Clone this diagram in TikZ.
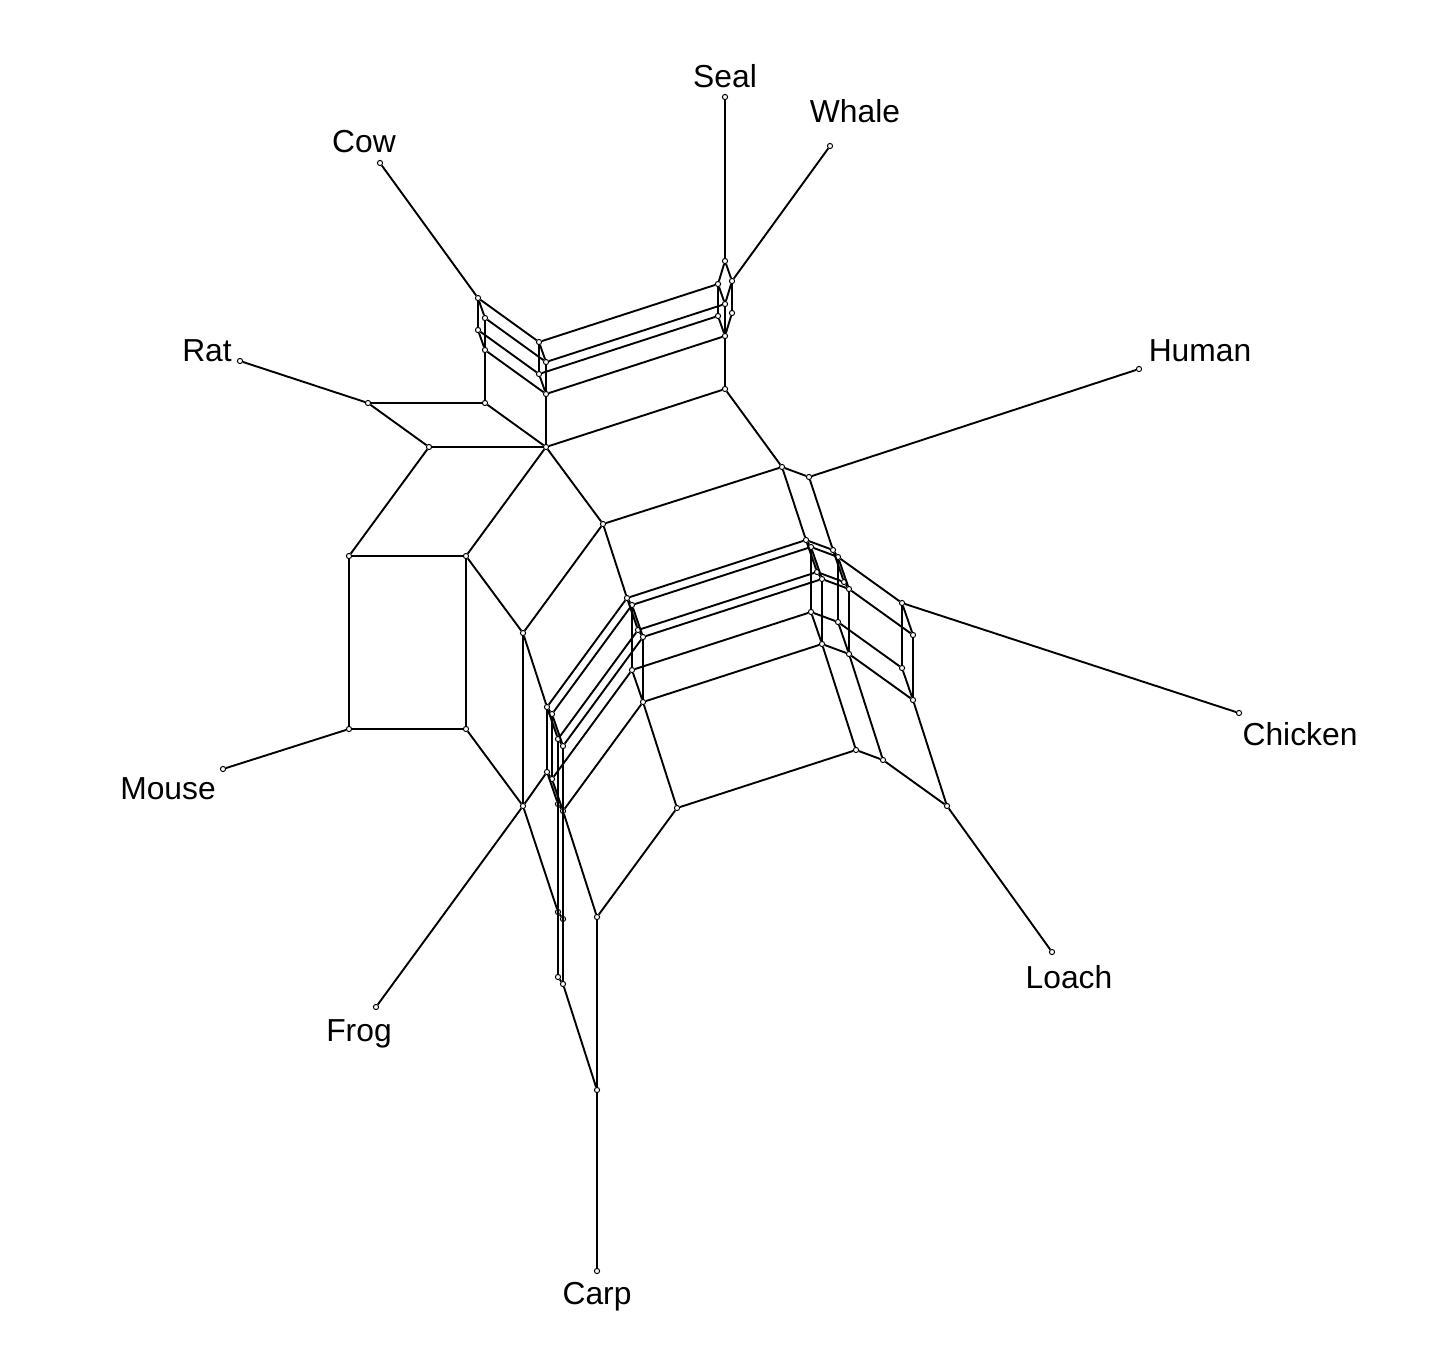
\documentclass[tikz,border=0pt]{standalone}
\usepackage{fontspec}
\setmainfont{Liberation Sans}
\begin{document}
\begin{tikzpicture}[x=0.5pt,y=-0.5pt,line width=0.95pt,
  dot/.style={circle,draw,fill=white,inner sep=0pt,minimum size=2.6pt,line width=0.5pt},
  taxon/.style={font=\fontsize{15.9}{19}\selectfont,inner sep=0pt}]
\useasboundingbox (0,0) rectangle (1446,1366);
% hub and upper part
\node[dot] (hub) at (546,447) {};\node[dot] (t1) at (546,394) {};\node[dot] (t2) at (485,403) {};
\node[dot] (t3) at (429,447) {};\node[dot] (rt) at (368,403) {};\node[dot] (t5) at (485,350) {};
\node[dot] (cg) at (478,330) {};\node[dot] (ch) at (485,318) {};\node[dot] (co) at (478,298) {};
\node[dot] (t1g) at (539,374) {};\node[dot] (t1h) at (546,362) {};\node[dot] (t1gh) at (539,342) {};
\node[dot] (w0) at (725,336) {};\node[dot] (w0g) at (718,316) {};\node[dot] (w0h) at (725,304) {};
\node[dot] (w0gh) at (718,284) {};\node[dot] (w0i) at (732,313) {};\node[dot] (wh) at (732,281) {};
\node[dot] (se) at (725,261) {};\node[dot] (u1) at (725,389) {};
% left part
\node[dot] (m1) at (349,556) {};\node[dot] (m2) at (466,556) {};\node[dot] (mo) at (349,729) {};
\node[dot] (m4) at (466,729) {};\node[dot] (f1) at (523,633) {};\node[dot] (fr) at (523,806) {};
% middle
\node[dot] (e1) at (603,524) {};\node[dot] (e2) at (782,467) {};\node[dot] (hu) at (809,477) {};
\node[dot] (q1) at (627,598) {};\node[dot] (q2) at (632,605) {};\node[dot] (q3) at (638,630) {};
\node[dot] (q4) at (643,637) {};\node[dot] (q5) at (632,670) {};\node[dot] (q6) at (643,702) {};
\node[dot] (r1) at (806,540) {};\node[dot] (r2) at (811,547) {};\node[dot] (r3) at (817,572) {};
\node[dot] (r4) at (822,579) {};\node[dot] (r5) at (811,612) {};\node[dot] (r6) at (822,644) {};
\node[dot] (k1) at (833,550) {};\node[dot] (k2) at (838,557) {};\node[dot] (k3) at (844,582) {};
\node[dot] (k4) at (849,589) {};\node[dot] (k5) at (838,622) {};\node[dot] (k6) at (849,654) {};
\node[dot] (ck) at (902,603) {};\node[dot] (c4) at (913,635) {};\node[dot] (c5) at (902,668) {};
\node[dot] (c6) at (913,700) {};
\node[dot] (lr1) at (677,808) {};\node[dot] (lr2) at (856,750) {};\node[dot] (lr3) at (883,760) {};
\node[dot] (lo) at (947,806) {};
% lower part
\node[dot] (z) at (547,707) {};\node[dot] (zn) at (552,714) {};\node[dot] (zm) at (558,739) {};
\node[dot] (zmn) at (563,746) {};\node[dot] (zo) at (547,772) {};\node[dot] (zno) at (552,779) {};
\node[dot] (zmo) at (558,804) {};\node[dot] (zmno) at (563,811) {};
\node[dot] (y) at (558,912) {};\node[dot] (yn) at (563,919) {};\node[dot] (yo) at (558,977) {};
\node[dot] (yno) at (563,984) {};\node[dot] (b1) at (597,917) {};\node[dot] (ca) at (597,1090) {};
% leaves
\node[dot] (lcow) at (380,163) {};\node[dot] (lseal) at (725,97) {};\node[dot] (lwhale) at (830,146) {};
\node[dot] (lhuman) at (1139,369) {};\node[dot] (lchicken) at (1239,713) {};\node[dot] (lloach) at (1052,952) {};
\node[dot] (lcarp) at (597,1271) {};\node[dot] (lfrog) at (376,1007) {};\node[dot] (lmouse) at (223,769) {};
\node[dot] (lrat) at (240,361) {};
\node[taxon] (Seal) at (725,76) {Seal};\node[taxon] (Whale) at (855,111) {Whale};
\node[taxon] (Cow) at (364,142) {Cow};\node[taxon] (Rat) at (207,351) {Rat};
\node[taxon] (Human) at (1200,351) {Human};\node[taxon] (Chicken) at (1300,734) {Chicken};
\node[taxon] (Loach) at (1069,977) {Loach};\node[taxon] (Carp) at (597,1297) {Carp};
\node[taxon] (Frog) at (359,1034) {Frog};\node[taxon] (Mouse) at (168,789) {Mouse};
% pendant edges
\draw (co)--(lcow) (se)--(lseal) (wh)--(lwhale) (hu)--(lhuman) (ck)--(lchicken) (lo)--(lloach)
  (ca)--(lcarp) (fr)--(lfrog) (mo)--(lmouse) (rt)--(lrat);
% upper boxes
\draw (hub)--(t1) (hub)--(t2) (t2)--(t5) (t1)--(t5) (hub)--(t3) (t3)--(rt) (t2)--(rt);
\draw (t5)--(cg) (t5)--(ch) (cg)--(co) (ch)--(co) (t1)--(t1g) (t1)--(t1h) (t1g)--(t1gh) (t1h)--(t1gh);
\draw (cg)--(t1g) (ch)--(t1h) (co)--(t1gh);
\draw (t1)--(w0) (t1g)--(w0g) (t1h)--(w0h) (t1gh)--(w0gh) (hub)--(u1) (u1)--(w0);
\draw (w0)--(w0g) (w0g)--(w0gh) (w0gh)--(se) (se)--(wh) (wh)--(w0i) (w0i)--(w0)
  (w0h)--(w0) (w0h)--(w0gh) (w0h)--(wh);
% left boxes
\draw (t3)--(m1) (hub)--(m2) (m1)--(m2) (m1)--(mo) (m2)--(m4) (mo)--(m4) (m2)--(f1) (m4)--(fr) (f1)--(fr);
% middle bands
\draw (hub)--(e1) (e1)--(f1) (u1)--(e2) (e1)--(e2) (e2)--(hu) (e1)--(q1) (e2)--(r1) (hu)--(k1);
\foreach \g in {q,r,k}
  \draw (\g1)--(\g2) (\g1)--(\g3) (\g2)--(\g4) (\g3)--(\g4) (\g2)--(\g5) (\g4)--(\g6) (\g5)--(\g6);
\foreach \i in {1,...,6}
  \draw (q\i)--(r\i) (r\i)--(k\i);
\draw (k2)--(ck) (k4)--(c4) (k5)--(c5) (k6)--(c6) (ck)--(c4) (ck)--(c5) (c4)--(c6) (c5)--(c6);
\draw (q6)--(lr1) (r6)--(lr2) (k6)--(lr3) (c6)--(lo) (lr1)--(lr2) (lr2)--(lr3) (lr3)--(lo);
% lower cube
\draw (f1)--(z) (q1)--(z) (q2)--(zn) (q3)--(zm) (q4)--(zmn) (q5)--(zno) (q6)--(zmno);
\draw (z)--(zn) (z)--(zm) (zn)--(zmn) (zm)--(zmn) (z)--(zo) (zn)--(zno) (zm)--(zmo) (zmn)--(zmno)
  (zo)--(zno) (zo)--(zmo) (zno)--(zmno) (zmo)--(zmno);
\draw (fr)--(zo) (fr)--(y) (zm)--(y) (zmo)--(yo) (zmn)--(yn) (zmno)--(yno)
  (y)--(yn) (y)--(yo) (yn)--(yno) (yo)--(yno);
\draw (zmno)--(b1) (lr1)--(b1) (b1)--(ca) (yno)--(ca);
\end{tikzpicture}
\end{document}
